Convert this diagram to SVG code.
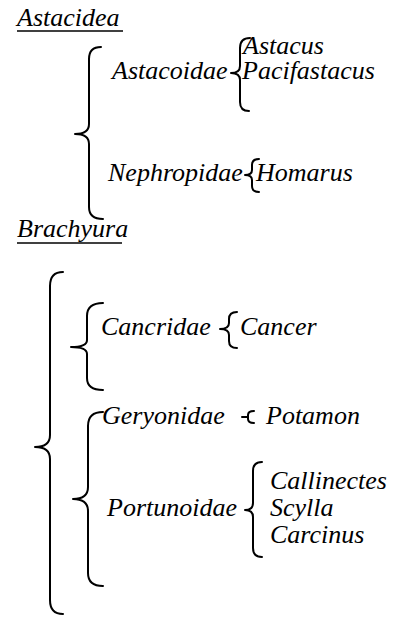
<svg xmlns="http://www.w3.org/2000/svg" width="400" height="617" viewBox="0 0 400 617">
<style>
.b{fill:none;stroke:#000;stroke-width:2;stroke-linecap:round;stroke-linejoin:round}
.u{stroke:#000;stroke-width:1.6}
</style>
<rect width="400" height="617" fill="#fff"/>
<g id="connectors">
<path class="b" d="M101 47 Q89 47 89 59 L89 124 Q89 134 75 134 Q89 134 89 144 L89 207 Q89 219 103 219"/>
<path class="b" d="M250 38 Q240 38 240 48 L240 66 Q240 73 231 73 Q240 73 240 80 L240 102 Q240 111 249 111"/>
<path class="b" d="M259 159 Q252 159 252 165 L252 170 Q252 175 245 175 Q252 175 252 180 L252 186 Q252 192 259 192"/>
<path class="b" d="M63 272 Q50 272 50 286 L50 435 Q50 447 35 447 Q50 447 50 459 L50 600 Q50 614 63 614"/>
<path class="b" d="M103 303 Q87 303 87 316 L87 340 Q87 347 71 347 Q87 347 87 354 L87 378 Q87 390 103 390"/>
<path class="b" d="M237 312 Q229 312 229 319 L229 323 Q229 329 220 329 Q229 329 229 335 L229 341 Q229 348 237 348"/>
<path class="b" d="M103 412 Q88 412 88 426 L88 487 Q88 499 73 499 Q88 499 88 511 L88 573 Q88 586 103 586"/>
<path class="b" d="M242 417 L248 417 M254 411 Q248 411 248 415 L248 419 Q248 423 254 423"/>
<path class="b" d="M262 462 Q253 462 253 471 L253 503 Q253 510 245 510 Q253 510 253 517 L253 548 Q253 557 262 557"/>
</g>
<g font-family="'Liberation Serif','Times New Roman','DejaVu Serif',serif" font-style="italic" font-size="26" fill="#000">
<g id="astacidea"><text x="17" y="26">Astacidea</text><line class="u" x1="17" y1="31" x2="123" y2="31"/></g>
<g id="astacoidae"><text x="112" y="79">Astacoidae</text></g>
<g id="astacus"><text x="243" y="54">Astacus</text></g>
<g id="pacifastacus"><text x="242" y="79">Pacifastacus</text></g>
<g id="nephropidae"><text x="108" y="181">Nephropidae</text></g>
<g id="homarus"><text x="256" y="181">Homarus</text></g>
<g id="brachyura"><text x="17" y="237">Brachyura</text><line class="u" x1="17" y1="243" x2="122" y2="243"/></g>
<g id="cancridae"><text x="101" y="335">Cancridae</text></g>
<g id="cancer"><text x="240" y="335">Cancer</text></g>
<g id="geryonidae"><text x="102" y="424">Geryonidae</text></g>
<g id="potamon"><text x="266" y="424">Potamon</text></g>
<g id="portunoidae"><text x="107" y="516">Portunoidae</text></g>
<g id="callinectes"><text x="270" y="489">Callinectes</text></g>
<g id="scylla"><text x="270" y="516">Scylla</text></g>
<g id="carcinus"><text x="270" y="543">Carcinus</text></g>
</g>
</svg>
